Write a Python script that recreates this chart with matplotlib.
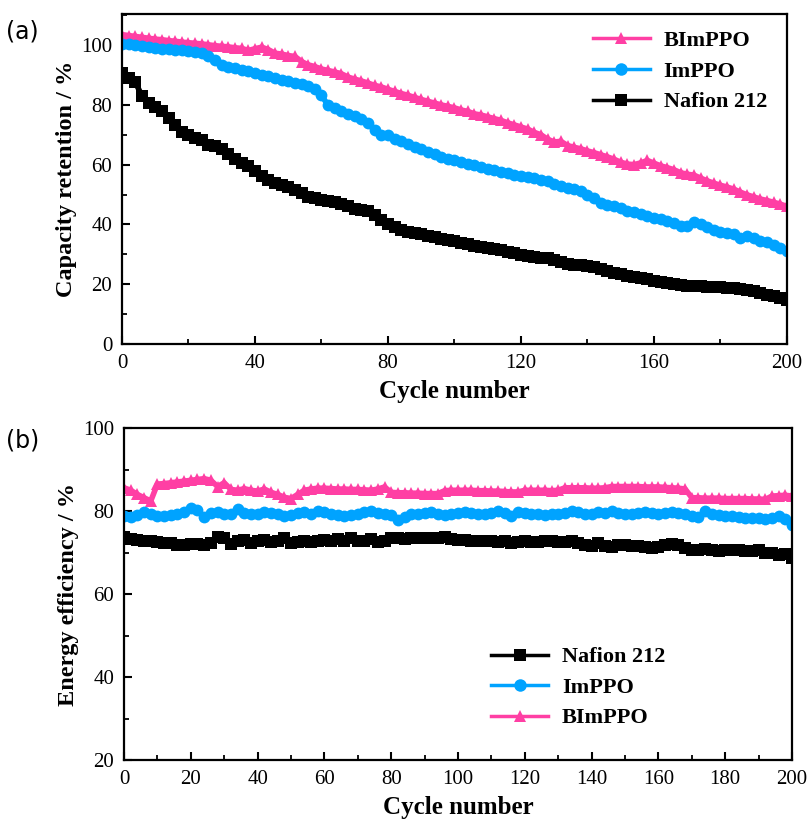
import numpy as np
import matplotlib
matplotlib.use("Agg")
import matplotlib.pyplot as plt
from matplotlib.ticker import MultipleLocator

cycles = list(range(0, 201, 2))

# (a) Capacity retention / %
cr_bimppo = [103.5, 103.2, 102.9, 102.6, 102.3, 102.0, 101.8, 101.5, 101.3, 101.0,
             100.8, 100.6, 100.4, 100.1, 99.8, 99.6, 99.4, 99.1, 98.9, 98.2,
             98.8, 99.3, 98.5, 97.3, 97.0, 96.5, 96.2, 94.5, 93.4, 92.8,
             92.0, 91.5, 91.0, 90.4, 89.3, 88.6, 88.0, 87.3, 86.5, 86.0,
             85.2, 84.5, 83.8, 83.2, 82.5, 81.8, 81.2, 80.6, 80.0, 79.5,
             79.0, 78.3, 77.8, 77.0, 76.6, 76.0, 75.4, 74.8, 74.0, 73.3,
             72.6, 71.9, 70.8, 70.0, 68.5, 67.6, 67.8, 66.4, 65.8, 65.3,
             64.6, 64.0, 63.3, 62.6, 61.8, 60.8, 60.2, 60.0, 60.6, 61.4,
             60.5, 59.6, 59.0, 58.3, 57.3, 56.8, 56.5, 55.5, 54.6, 53.8,
             53.1, 52.5, 51.8, 50.8, 49.9, 49.2, 48.5, 48.0, 47.4, 46.8, 46.0]
cr_imppo = [100.5, 100.2, 99.9, 99.6, 99.3, 99.0, 98.8, 98.6, 98.4, 98.2,
            98.0, 97.6, 97.2, 96.5, 95.0, 93.4, 92.8, 92.3, 91.7, 91.2,
            90.6, 90.1, 89.6, 89.0, 88.4, 87.9, 87.4, 87.0, 86.3, 85.2,
            83.2, 79.8, 78.8, 77.8, 77.0, 76.2, 75.2, 73.8, 71.5, 70.0,
            69.8, 68.6, 67.8, 66.8, 66.0, 65.1, 64.2, 63.5, 62.7, 62.0,
            61.4, 60.8, 60.3, 59.8, 59.3, 58.7, 58.2, 57.6, 57.1, 56.6,
            56.3, 56.0, 55.5, 55.0, 54.6, 53.6, 52.8, 52.2, 51.7, 51.2,
            50.0, 48.8, 47.2, 46.6, 46.2, 45.4, 44.6, 44.0, 43.4, 42.8,
            42.3, 41.8, 41.2, 40.4, 39.4, 39.6, 40.9, 40.2, 39.0, 38.0,
            37.6, 37.2, 36.8, 35.4, 36.0, 35.4, 34.6, 34.0, 33.2, 32.2, 31.0]
cr_nafion = [90.5, 89.0, 87.6, 83.0, 80.6, 79.2, 77.8, 75.6, 73.2, 70.8,
             69.8, 69.0, 68.2, 66.6, 66.2, 65.4, 63.6, 61.8, 60.6, 59.4,
             58.0, 56.2, 54.8, 53.7, 53.2, 52.6, 51.6, 50.4, 49.2, 48.7,
             48.2, 48.0, 47.4, 46.7, 46.0, 45.3, 44.8, 44.6, 43.2, 41.5,
             40.2, 39.2, 38.3, 37.6, 37.0, 36.8, 36.2, 35.7, 35.2, 34.8,
             34.3, 33.8, 33.3, 32.9, 32.5, 32.1, 31.7, 31.3, 30.8, 30.3,
             29.9, 29.5, 29.2, 28.9, 28.6, 28.0, 27.4, 26.9, 26.5, 26.4,
             26.2, 25.8, 25.0, 24.3, 23.7, 23.3, 22.8, 22.4, 22.0, 21.6,
             21.2, 20.8, 20.5, 20.2, 19.8, 19.5, 19.4, 19.3, 19.2, 19.1,
             18.9, 18.7, 18.6, 18.5, 18.2, 17.6, 17.0, 16.5, 16.0, 15.5, 14.7]

# (b) Energy efficiency / %
ee_bimppo = [85.6, 85.0, 84.0, 83.2, 82.4, 86.5, 86.6, 86.8, 87.0, 87.2,
             87.4, 87.6, 87.8, 87.4, 85.9, 86.8, 85.2, 85.0, 85.4, 85.0,
             84.8, 85.3, 84.5, 84.0, 83.3, 83.0, 84.0, 85.0, 85.3, 85.5,
             85.5, 85.4, 85.3, 85.3, 85.2, 85.2, 85.1, 85.0, 85.3, 85.8,
             84.5, 84.4, 84.4, 84.3, 84.3, 84.2, 84.2, 84.2, 84.9, 85.0,
             85.0, 85.0, 85.0, 84.9, 84.9, 84.8, 84.8, 84.7, 84.6, 84.6,
             85.0, 85.0, 85.0, 85.0, 84.9, 85.0, 85.6, 85.6, 85.6, 85.6,
             85.5, 85.5, 85.6, 85.9, 85.9, 85.9, 85.9, 85.9, 85.8, 85.8,
             85.8, 85.7, 85.6, 85.5, 85.3, 83.2, 83.2, 83.1, 83.1, 83.1,
             83.0, 83.0, 83.0, 83.0, 82.9, 82.9, 82.8, 83.6, 83.7, 83.8, 83.6]
ee_imppo = [78.8, 78.6, 79.0, 79.8, 79.4, 78.8, 78.8, 79.0, 79.3, 79.8,
            80.8, 80.2, 78.6, 79.6, 79.8, 79.4, 79.2, 80.4, 79.6, 79.2,
            79.4, 79.8, 79.6, 79.4, 78.8, 79.0, 79.6, 79.8, 79.4, 79.9,
            79.8, 79.2, 79.0, 78.8, 79.0, 79.4, 79.8, 80.0, 79.6, 79.4,
            79.0, 77.8, 78.6, 79.2, 79.4, 79.6, 79.8, 79.4, 79.0, 79.2,
            79.6, 79.8, 79.6, 79.4, 79.2, 79.6, 80.0, 79.6, 78.8, 79.8,
            79.6, 79.4, 79.2, 79.0, 79.4, 79.2, 79.6, 80.0, 79.8, 79.2,
            79.4, 79.8, 79.6, 80.0, 79.6, 79.2, 79.4, 79.6, 79.8, 79.6,
            79.4, 79.6, 79.8, 79.6, 79.2, 78.8, 78.6, 80.0, 79.4, 79.0,
            78.8, 78.8, 78.6, 78.4, 78.4, 78.2, 78.0, 78.4, 78.8, 78.0, 76.6]
ee_nafion = [73.8, 73.2, 73.0, 72.8, 72.8, 72.6, 72.4, 72.2, 71.8, 71.8,
             72.0, 72.0, 71.8, 72.2, 73.8, 73.4, 72.0, 72.8, 73.0, 72.4,
             72.8, 73.0, 72.6, 72.8, 73.4, 72.4, 72.6, 72.8, 72.6, 72.8,
             73.0, 72.8, 73.2, 72.8, 73.4, 72.8, 72.8, 73.2, 72.6, 72.8,
             73.4, 73.4, 73.2, 73.4, 73.6, 73.4, 73.6, 73.4, 73.8, 73.2,
             73.0, 73.0, 72.8, 72.8, 72.8, 72.8, 72.6, 72.8, 72.4, 72.6,
             72.8, 72.6, 72.6, 72.8, 72.8, 72.6, 72.6, 72.8, 72.2, 71.8,
             71.6, 72.4, 71.6, 71.4, 71.8, 71.8, 71.6, 71.6, 71.4, 71.2,
             71.4, 71.8, 72.0, 71.8, 71.2, 70.6, 70.6, 70.8, 70.6, 70.4,
             70.6, 70.6, 70.6, 70.4, 70.4, 70.6, 70.0, 69.8, 69.4, 69.6, 68.6]

PINK = "#FF3FA4"
BLUE = "#00A3FF"
BLACK = "#000000"
SERIF = ["Liberation Serif", "DejaVu Serif"]

fig = plt.figure(figsize=(8.09, 8.19), dpi=100)
ax1 = fig.add_axes([0.1508, 0.580, 0.8220, 0.4029])
ax2 = fig.add_axes([0.1533, 0.0720, 0.8257, 0.4054])

ms = 8.5
def plot_series(ax, y, color, marker, label):
    ax.plot(cycles, y, color=color, marker=marker, markersize=ms, linewidth=4,
            markeredgewidth=0, label=label)

plot_series(ax1, cr_bimppo, PINK, "^", "BImPPO")
plot_series(ax1, cr_imppo, BLUE, "o", "ImPPO")
plot_series(ax1, cr_nafion, BLACK, "s", "Nafion 212")

plot_series(ax2, ee_nafion, BLACK, "s", "Nafion 212")
plot_series(ax2, ee_imppo, BLUE, "o", "ImPPO")
plot_series(ax2, ee_bimppo, PINK, "^", "BImPPO")

ax1.set_xlim(0, 200)
ax1.set_ylim(0, 110.4)
ax1.xaxis.set_major_locator(MultipleLocator(40))
ax1.xaxis.set_minor_locator(MultipleLocator(20))
ax1.yaxis.set_major_locator(MultipleLocator(20))
ax1.yaxis.set_minor_locator(MultipleLocator(10))

ax2.set_xlim(0, 200)
ax2.set_ylim(20, 100)
ax2.xaxis.set_major_locator(MultipleLocator(20))
ax2.xaxis.set_minor_locator(MultipleLocator(10))
ax2.yaxis.set_major_locator(MultipleLocator(20))
ax2.yaxis.set_minor_locator(MultipleLocator(10))

for ax in (ax1, ax2):
    for s in ax.spines.values():
        s.set_linewidth(1.6)
    ax.tick_params(which="major", direction="in", length=6, width=1.5, labelsize=15,
                   top=False, right=False, pad=7)
    ax.tick_params(which="minor", direction="in", length=3.5, width=1.3, top=False, right=False)
    for lab in ax.get_xticklabels() + ax.get_yticklabels():
        lab.set_fontfamily(SERIF)
    ax.set_xlabel("Cycle number", fontsize=18, fontweight="bold", family=SERIF, labelpad=5)

ax1.set_ylabel("Capacity retention / %", fontsize=17.5, fontweight="bold", family=SERIF, labelpad=3)
ax2.set_ylabel("Energy efficiency / %", fontsize=17.5, fontweight="bold", family=SERIF, labelpad=3)

leg_kw = dict(frameon=False, prop={"family": SERIF, "weight": "bold", "size": 16},
              handlelength=2.6, handletextpad=0.6, labelspacing=0.45)
for ax, kw in ((ax1, dict(loc="upper right", bbox_to_anchor=(1.0, 1.01))),
               (ax2, dict(loc="lower right", bbox_to_anchor=(0.84, 0.035)))):
    leg = ax.legend(**kw, **leg_kw)
    for h in leg.get_lines():
        h.set_linewidth(2.5)
        h.set_markersize(9)

fig.text(0.008, 0.962, "(a)", fontsize=17, family="DejaVu Sans", va="center")
fig.text(0.008, 0.462, "(b)", fontsize=17, family="DejaVu Sans", va="center")

fig.savefig("out.png", dpi=100)
